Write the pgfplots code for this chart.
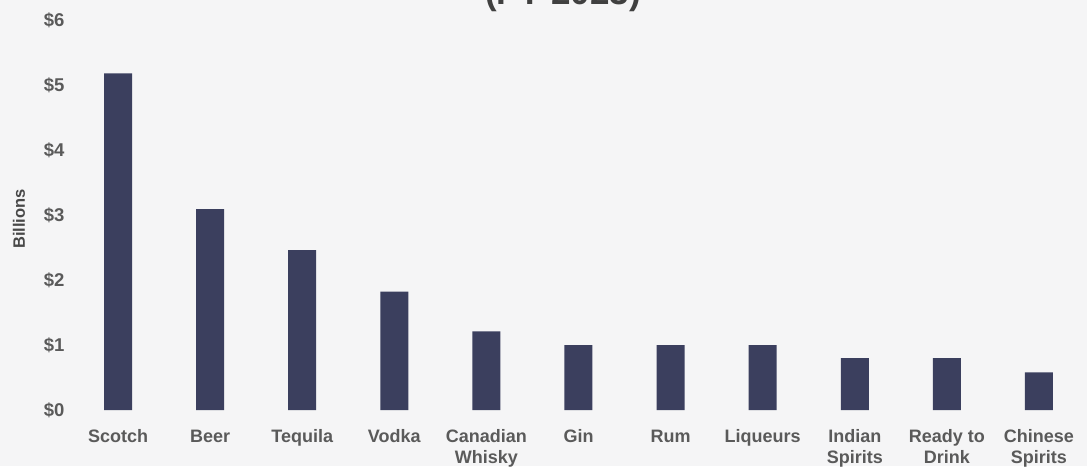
\documentclass[border=0pt]{standalone}
\usepackage{pgfplots}
\pgfplotsset{compat=1.18}
\usepackage{fontspec}
\setmainfont{Liberation Sans}
\definecolor{barc}{HTML}{3B3F5E}
\definecolor{tickc}{HTML}{5A5A5A}
\definecolor{bgc}{HTML}{F5F5F6}
\begin{document}
\begin{tikzpicture}
\fill[bgc] (-72pt,-56pt) rectangle (1015pt,410pt);
\begin{axis}[
  at={(0,0)}, anchor=south west,
  scale only axis,
  width=1013pt, height=390pt,
  xmin=-0.5, xmax=10.5,
  ymin=0, ymax=6,
  axis line style={draw=none},
  tick style={draw=none},
  ybar, bar width=28pt,
  xtick={0,...,10},
  xticklabels={Scotch,Beer,Tequila,Vodka,Canadian\\Whisky,Gin,Rum,Liqueurs,Indian\\Spirits,Ready to\\Drink,Chinese\\Spirits},
  xticklabel style={font=\fontsize{18}{21}\selectfont\bfseries, text=tickc, align=center, anchor=north, yshift=-12pt},
  ytick={0,...,6},
  yticklabels={\$0,\$1,\$2,\$3,\$4,\$5,\$6},
  yticklabel style={font=\fontsize{18.5}{21}\selectfont\bfseries, text=tickc, anchor=east, xshift=-4pt},
  ylabel={Billions},
  ylabel style={font=\fontsize{16.5}{19}\selectfont\bfseries, text=tickc!80!black, at={(axis description cs:0,0.5)}, yshift=53pt, xshift=-4pt, anchor=center},
  /pgf/number format/assume math mode=true,
]
\addplot[fill=barc, draw=none] coordinates {
 (0,5.18) (1,3.09) (2,2.46) (3,1.82) (4,1.21) (5,1.0) (6,1.0) (7,1.0) (8,0.80) (9,0.80) (10,0.58)};
\end{axis}
\node[font=\fontsize{35}{40}\selectfont\bfseries, text=black!75, anchor=base] at (491pt,405pt) {(FY 2023)};
\pgfresetboundingbox
\useasboundingbox (-72pt,-56pt) rectangle (1015pt,410pt);
\end{tikzpicture}
\end{document}
